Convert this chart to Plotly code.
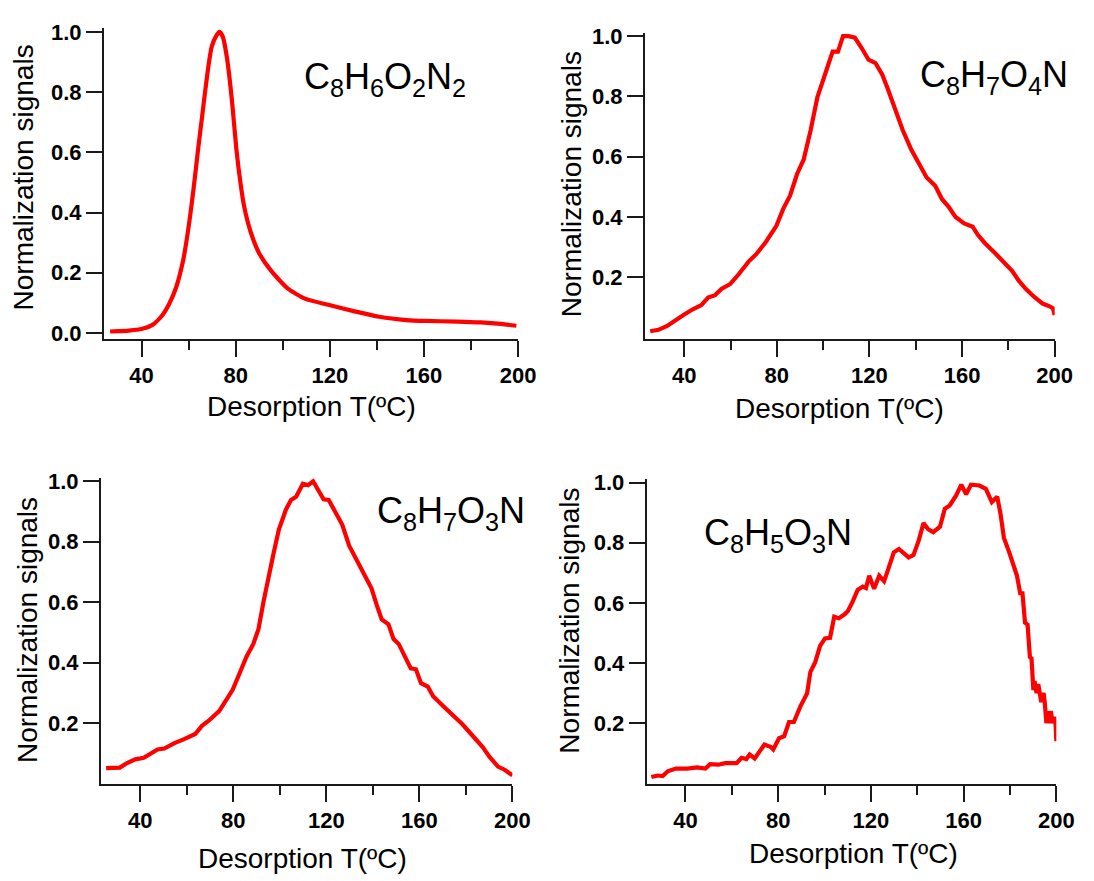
import plotly.graph_objects as go

W, H = 1094, 881

# Desorption temperature (deg C) and normalized signal for each compound
t_c8h6o2n2 = [26.6, 30.0, 34.5, 40.0, 44.6, 48.9, 51.8, 54.7, 57.6, 59.7, 61.9, 64.0, 66.2, 68.3,
              69.8, 71.9, 73.1, 74.5, 76.3, 78.4, 80.3, 82.0, 83.5, 86.3, 89.9, 95.0, 102.2, 109.4,
              120.2, 131.0, 141.0, 152.5, 160.2, 174.0, 184.2, 192.8, 199.3]
s_c8h6o2n2 = [0.005, 0.006, 0.008, 0.013, 0.027, 0.060, 0.098, 0.152, 0.239, 0.337, 0.467, 0.609,
              0.750, 0.880, 0.951, 0.989, 1.000, 0.984, 0.913, 0.772, 0.609, 0.500, 0.424, 0.337,
              0.266, 0.207, 0.147, 0.114, 0.092, 0.071, 0.054, 0.043, 0.040, 0.038, 0.035, 0.030,
              0.024]

t_c8h7o4n = [25.3, 28.9, 32.6, 36.3, 40.0, 43.7, 47.4, 50.3, 53.3, 56.2, 59.9, 63.6, 68.0, 71.0,
             75.4, 79.8, 82.8, 85.7, 88.7, 91.6, 94.6, 97.5, 100.5, 104.1, 106.4, 108.6, 111.0,
             113.7, 116.7, 119.6, 122.6, 125.5, 127.7, 130.7, 134.4, 138.1, 141.7, 144.7, 148.4,
             151.3, 154.3, 157.2, 160.9, 164.6, 166.8, 169.8, 174.2, 177.9, 181.6, 184.5, 187.5,
             191.2, 194.8, 197.8, 199.3, 200.0]
s_c8h7o4n = [0.021, 0.026, 0.039, 0.059, 0.077, 0.094, 0.108, 0.133, 0.141, 0.162, 0.178, 0.211,
             0.254, 0.276, 0.319, 0.371, 0.428, 0.471, 0.542, 0.591, 0.688, 0.797, 0.862, 0.949,
             0.949, 1.000, 1.000, 0.995, 0.960, 0.922, 0.911, 0.873, 0.830, 0.764, 0.688, 0.623,
             0.569, 0.531, 0.504, 0.460, 0.433, 0.400, 0.379, 0.368, 0.341, 0.314, 0.281, 0.249,
             0.222, 0.189, 0.162, 0.135, 0.113, 0.104, 0.097, 0.075]

t_c8h7o3n = [25.3, 28.2, 31.2, 34.1, 37.8, 41.5, 44.4, 47.4, 50.3, 54.7, 59.1, 63.6, 66.5, 69.4,
             73.9, 76.8, 79.7, 82.7, 85.6, 88.6, 90.8, 93.0, 95.2, 97.4, 99.6, 102.6, 104.8, 107.0,
             109.9, 112.1, 114.3, 116.5, 118.8, 121.0, 123.9, 126.8, 129.8, 132.7, 135.7, 139.4,
             141.6, 143.8, 146.7, 148.9, 151.1, 154.1, 156.3, 158.5, 160.7, 163.6, 165.9, 170.3,
             174.7, 178.4, 182.8, 187.2, 190.1, 193.8, 196.8, 199.0, 200.0]
s_c8h7o3n = [0.051, 0.051, 0.053, 0.067, 0.080, 0.085, 0.099, 0.113, 0.116, 0.134, 0.148, 0.164,
             0.191, 0.208, 0.240, 0.278, 0.310, 0.365, 0.419, 0.462, 0.511, 0.603, 0.689, 0.765,
             0.841, 0.906, 0.938, 0.949, 0.992, 0.987, 1.000, 0.971, 0.940, 0.938, 0.895, 0.857,
             0.787, 0.743, 0.695, 0.646, 0.592, 0.543, 0.527, 0.478, 0.462, 0.419, 0.381, 0.378,
             0.332, 0.321, 0.289, 0.256, 0.224, 0.197, 0.159, 0.121, 0.089, 0.056, 0.045, 0.034,
             0.027]

t_c8h5o3n = [25.3, 28.1, 30.2, 32.4, 35.9, 40.8, 45.1, 48.6, 50.7, 54.3, 57.1, 62.1, 64.2, 66.3,
             67.7, 69.9, 74.1, 76.9, 77.9, 80.4, 82.6, 84.7, 86.8, 89.6, 92.5, 93.9, 96.0, 98.1,
             100.2, 102.4, 104.2, 106.2, 108.7, 110.1, 112.2, 114.3, 116.5, 117.9, 119.3, 121.4,
             123.6, 125.7, 127.1, 129.9, 132.1, 134.2, 136.3, 138.4, 140.6, 142.7, 144.8, 146.9,
             149.8, 151.9, 154.0, 156.8, 159.0, 161.1, 163.2, 166.8, 169.6, 172.2, 173.6, 174.5,
             175.9, 177.4, 179.5, 181.6, 183.0, 184.4, 185.4, 186.5, 187.6, 188.6, 189.3, 190.1,
             190.6, 191.0, 191.5, 192.2, 192.9, 193.5, 194.0, 194.5, 195.0, 195.7, 196.3, 197.0,
             197.6, 198.5, 199.2, 199.6, 200.0]
s_c8h5o3n = [0.021, 0.026, 0.024, 0.040, 0.049, 0.049, 0.053, 0.049, 0.064, 0.062, 0.067, 0.067,
             0.085, 0.081, 0.096, 0.083, 0.129, 0.121, 0.113, 0.150, 0.157, 0.204, 0.204, 0.256,
             0.299, 0.370, 0.403, 0.457, 0.482, 0.484, 0.554, 0.549, 0.562, 0.573, 0.605, 0.643,
             0.654, 0.649, 0.690, 0.647, 0.690, 0.672, 0.703, 0.768, 0.779, 0.766, 0.751, 0.759,
             0.806, 0.865, 0.844, 0.835, 0.853, 0.913, 0.924, 0.957, 0.993, 0.961, 0.993, 0.990,
             0.979, 0.935, 0.946, 0.953, 0.897, 0.816, 0.772, 0.729, 0.691, 0.632, 0.632, 0.534,
             0.528, 0.420, 0.415, 0.310, 0.340, 0.320, 0.300, 0.330, 0.300, 0.270, 0.290, 0.300,
             0.270, 0.200, 0.240, 0.200, 0.240, 0.200, 0.220, 0.210, 0.140]

x_ticks = [40, 80, 120, 160, 200]
x_minor = [60, 100, 140, 180]
y_ticks_full = [0.0, 0.2, 0.4, 0.6, 0.8, 1.0]
y_ticks_short = [0.2, 0.4, 0.6, 0.8, 1.0]

x_title = "Desorption T(ºC)"
y_title = "Normalization signals"

INK = "#1a1a1a"
TEXT = "#000000"
RED = "#ff0000"
FONT = "Liberation Sans, Arial, sans-serif"


def px_x(v):
    return v / W


def px_y(v):
    return 1 - v / H


# left, right, top, bottom of each plot box (px), x range start, y range start
panels = [
    dict(t=t_c8h6o2n2, s=s_c8h6o2n2, box=(105.7, 526.7, 19.6, 336.0), x0=24.0, y0=-0.0196,
         yt=y_ticks_full, smooth=True,
         label="C<sub>8</sub>H<sub>6</sub>O<sub>2</sub>N<sub>2</sub>", lab=(306.7, 71),
         ytc=(24, 172), xtc=(317, 405)),
    dict(t=t_c8h7o4n, s=s_c8h7o4n, box=(655.8, 1072.3, 24.0, 336.0), x0=23.05, y0=-0.0042,
         yt=y_ticks_short, smooth=False,
         label="C<sub>8</sub>H<sub>7</sub>O<sub>4</sub>N", lab=(933, 69),
         ytc=(581, 178), xtc=(853.5, 407)),
    dict(t=t_c8h7o3n, s=s_c8h7o3n, box=(102.7, 521.0, 477.3, 789.3), x0=23.1, y0=-0.0013,
         yt=y_ticks_short, smooth=False,
         label="C<sub>8</sub>H<sub>7</sub>O<sub>3</sub>N", lab=(381, 513),
         ytc=(28, 633), xtc=(308, 865)),
    dict(t=t_c8h5o3n, s=s_c8h5o3n, box=(657.5, 1074.0, 478.6, 789.3), x0=23.3, y0=-0.002,
         yt=y_ticks_short, smooth=False,
         label="C<sub>8</sub>H<sub>5</sub>O<sub>3</sub>N", lab=(713.3, 536),
         ytc=(579.5, 623), xtc=(867.7, 860)),
]

fig = go.Figure()
annotations = []
layout_axes = {}

for i, p in enumerate(panels, start=1):
    sfx = "" if i == 1 else str(i)
    left, right, top, bottom = p["box"]
    fig.add_trace(go.Scatter(
        x=p["t"], y=p["s"], mode="lines",
        line=dict(color=RED, width=4.2,
                  shape="spline" if p["smooth"] else "linear",
                  smoothing=0.6 if p["smooth"] else None),
        xaxis="x" + sfx, yaxis="y" + sfx, showlegend=False, hoverinfo="skip",
    ))
    layout_axes["xaxis" + sfx] = dict(
        domain=[px_x(left), px_x(right)], range=[p["x0"], 200], anchor="y" + sfx,
        tickmode="array", tickvals=x_ticks, ticks="outside", ticklen=16, tickwidth=2,
        tickcolor=INK, showline=True, linewidth=2, linecolor=INK, showgrid=False,
        zeroline=False,
        minor=dict(tickmode="array", tickvals=x_minor, ticks="outside", ticklen=9,
                   tickwidth=2, tickcolor=INK, showgrid=False),
        tickfont=dict(family=FONT, size=22, color=TEXT, weight="bold"),
    )
    layout_axes["yaxis" + sfx] = dict(
        domain=[px_y(bottom), px_y(top)], range=[p["y0"], 1.012], anchor="x" + sfx,
        tickmode="array", tickvals=p["yt"], tickformat=".1f", ticks="outside", ticklen=16,
        tickwidth=2, tickcolor=INK, showline=True, linewidth=2, linecolor=INK,
        showgrid=False, zeroline=False,
        tickfont=dict(family=FONT, size=22, color=TEXT, weight="bold"),
    )
    annotations.append(dict(
        text=p["label"], x=px_x(p["lab"][0]), y=px_y(p["lab"][1]), xref="paper", yref="paper",
        xanchor="left", yanchor="middle", showarrow=False,
        font=dict(family=FONT, size=36, color=TEXT),
    ))
    annotations.append(dict(
        text=y_title, x=px_x(p["ytc"][0]), y=px_y(p["ytc"][1]), xref="paper", yref="paper",
        xanchor="center", yanchor="middle", textangle=-90, showarrow=False,
        font=dict(family=FONT, size=28, color=TEXT),
    ))
    annotations.append(dict(
        text=x_title, x=px_x(p["xtc"][0]), y=px_y(p["xtc"][1]), xref="paper", yref="paper",
        xanchor="center", yanchor="middle", showarrow=False,
        font=dict(family=FONT, size=28, color=TEXT),
    ))

fig.update_layout(
    width=W, height=H, margin=dict(l=0, r=0, t=0, b=0),
    paper_bgcolor="white", plot_bgcolor="white",
    annotations=annotations, **layout_axes,
)

fig.write_html("out.html")
